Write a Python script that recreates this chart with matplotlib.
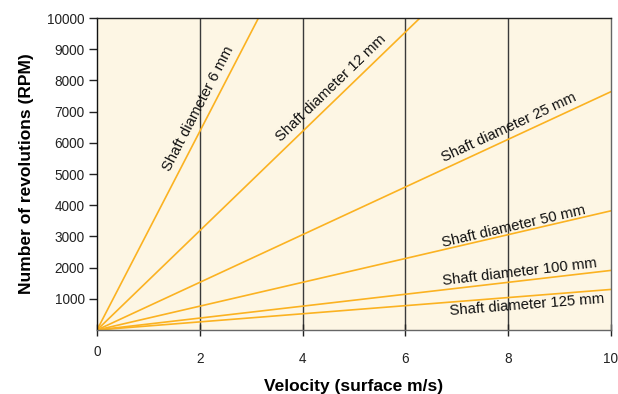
import numpy as np
import matplotlib
matplotlib.use("Agg")
import matplotlib.pyplot as plt
from matplotlib.transforms import ScaledTranslation

plt.rcParams['font.family'] = ['Liberation Sans', 'DejaVu Sans']

# Data: RPM reached at 10 m/s for each shaft diameter (lines start at origin)
diameters = ["6", "12", "25", "50", "100", "125"]
velocity_end = [0, 10]
rpm_at_10 = [31831, 15915, 7639, 3820, 1910, 1300]
# label anchor positions (velocity, rpm)
label_v = [1.98, 4.55, 8.02, 8.11, 8.23, 8.37]
label_rpm = [7080, 7750, 6500, 3330, 1855, 800]

xticks = [0, 2, 4, 6, 8, 10]
yticks = [1000, 2000, 3000, 4000, 5000, 6000, 7000, 8000, 9000, 10000]

line_color = "#FBB221"
bg = "#FDF6E4"

fig = plt.figure(figsize=(6.18, 3.94), dpi=100)
ax = fig.add_axes([97/618, 64/394, 514/618, 312/394])
ax.set_facecolor(bg)
ax.set_xlim(0, 10)
ax.set_ylim(0, 10000)

for x in [2, 4, 6, 8]:
    ax.axvline(x, color="#3a3a3a", lw=1.0, zorder=1)

for r in rpm_at_10:
    ax.plot(velocity_end, [0, r], color=line_color, lw=1.2, zorder=2, clip_on=True)

for d, r, lv, lr in zip(diameters, rpm_at_10, label_v, label_rpm):
    ang = ax.transData.transform_angles(np.array([np.degrees(np.arctan2(r, 10))]),
                                        np.array([[lv, lr]]))[0]
    ax.text(lv, lr, f"Shaft diameter {d} mm", rotation=ang, rotation_mode='anchor',
            ha='center', va='center', fontsize=10.7, color="#111111", zorder=3)

ax.set_xticks(xticks)
ax.set_xticklabels([str(t) for t in xticks])
ax.set_yticks(yticks)
ax.set_yticklabels([str(t) for t in yticks])
ax.tick_params(axis='x', direction='inout', length=8, width=1, pad=12,
               labelsize=9.8, colors="#222222")
ax.tick_params(axis='y', direction='out', length=6, width=1, pad=3,
               labelsize=9.8, colors="#222222")
for lbl in ax.get_xticklabels():
    if lbl.get_text() == "0":
        lbl.set_transform(lbl.get_transform() + ScaledTranslation(0, 5/72, fig.dpi_scale_trans))

ax.spines['left'].set_color("#111111")
ax.spines['top'].set_color("#222222")
ax.spines['right'].set_color("#666666")
ax.spines['bottom'].set_color("#666666")
for s in ax.spines.values():
    s.set_linewidth(1.0)

ax.set_xlabel("Velocity (surface m/s)", fontsize=12.5, fontweight='bold', labelpad=9)
ax.set_ylabel("Number of revolutions (RPM)", fontsize=12.5, fontweight='bold', labelpad=9)

fig.savefig("out.png", dpi=100)
